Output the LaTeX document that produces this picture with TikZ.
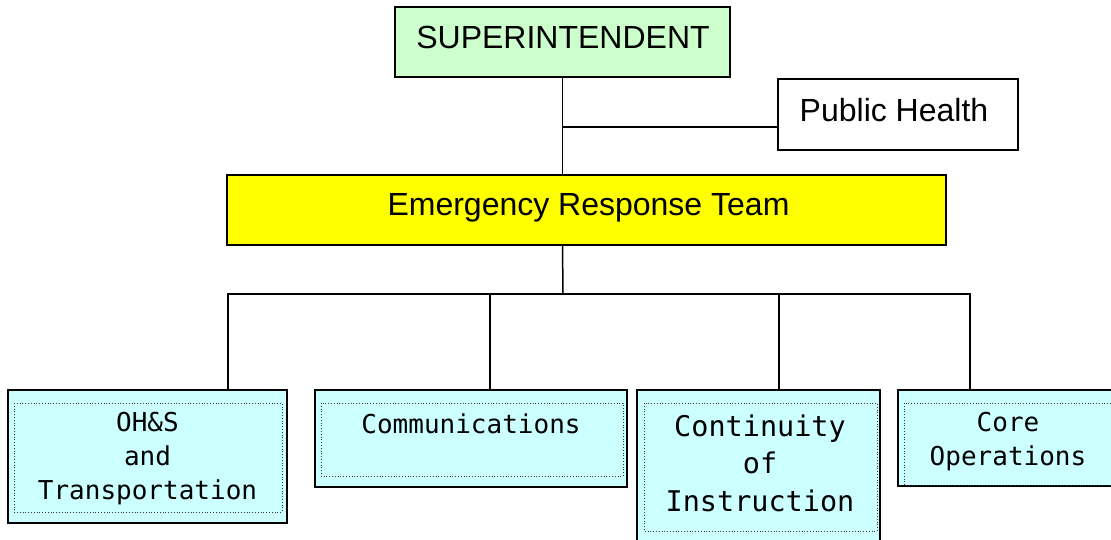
\documentclass[tikz,border=0pt]{standalone}
\usepackage{fontspec}
\setmainfont{Liberation Sans}
\newfontfamily\monofont{DejaVu Sans Mono}
\usetikzlibrary{calc}
\definecolor{supgreen}{HTML}{CCFFCC}
\definecolor{ertyellow}{HTML}{FFFF00}
\definecolor{boxcyan}{HTML}{CCFFFF}
\begin{document}
\begin{tikzpicture}[x=1pt,y=-1pt,
  box/.style={draw=black, line width=1.5pt, inner sep=0pt, outer sep=0pt},
  cyanbox/.style={box, fill=boxcyan},
  toptext/.style={font=\fontsize{32}{38}\selectfont, inner sep=0pt, text height=23pt, text depth=0pt},
  mono/.style={font=\monofont\fontsize{26}{34}\selectfont, align=center, inner sep=0pt},
  monobig/.style={font=\monofont\fontsize{28.5}{37.5}\selectfont, align=center, inner sep=0pt},
  innerline/.style={draw=black!80, line width=0.8pt, dotted},
  conn/.style={draw=black, line width=1.5pt}]
\path[use as bounding box] (0,0) rectangle (1111,539);
\clip (0,0) rectangle (1111,539);
\fill[white] (0,0) rectangle (1111,539);

% top level boxes
\node[box, fill=supgreen, minimum width=335, minimum height=70] (sup) at (562.5,42) {};
\node[box, fill=white, minimum width=240, minimum height=71] (ph) at (898,114.5) {};
\node[box, fill=ertyellow, minimum width=719, minimum height=70] (ert) at (586.5,210) {};
\node[toptext] (suptext) at (563,36.8) {SUPERINTENDENT};
\node[toptext] (phtext) at (894,109.5) {Public Health};
\node[toptext] (erttext) at (588.5,203.7) {Emergency Response Team};

% bottom boxes
\node[cyanbox, minimum width=279, minimum height=133] (oh) at (147.5,456.5) {};
\node[cyanbox, minimum width=312, minimum height=97] (comm) at (471,438.5) {};
\node[cyanbox, minimum width=243, minimum height=180] (cont) at (758.5,480) {};
\node[cyanbox, minimum width=227, minimum height=96] (core) at (1011.5,438) {};

% inner dotted frames
\draw[innerline] ($(oh.north west)+(6,13)$) rectangle ($(oh.south east)+(-5,-11)$);
\draw[innerline] ($(comm.north west)+(6,13)$) rectangle ($(comm.south east)+(-4,-11)$);
\draw[innerline] ($(cont.north west)+(7,13)$) rectangle ($(cont.south east)+(-3,-39)$);
\draw[innerline] ($(core.north west)+(6,13)$) rectangle ($(core.south east)+(-5,-1)$);

% texts
\node[mono] (ohtext) at (147.5,459) {OH\&S\\and\\Transportation};
\node[mono] (commtext) at (471,424) {Communications};
\node[monobig] (conttext) at (760,463) {Continuity\\of\\Instruction};
\node[mono] (coretext) at (1008,442) {Core\\Operations};

% connectors
\coordinate (phjoin) at (778,127);
\coordinate (bus) at (563,294);
\coordinate (ohtop) at (228,390);
\coordinate (commtop) at (490,390);
\coordinate (conttop) at (779,390);
\coordinate (coretop) at (970,390);
\draw[conn] (sup.south) -- (sup.south |- ert.north);
\draw[conn] (phjoin) -- (phjoin -| sup.south);
\draw[conn] (ert.south -| sup.south) -- (bus);
\draw[conn] (ohtop) |- (bus -| coretop) -- (coretop);
\draw[conn] (commtop) -- (commtop |- bus);
\draw[conn] (conttop) -- (conttop |- bus);
\end{tikzpicture}
\end{document}
